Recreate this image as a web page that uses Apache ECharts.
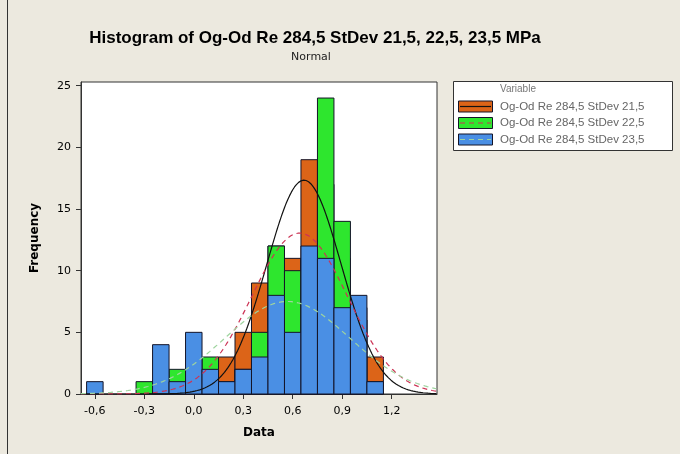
<!DOCTYPE html>
<html><head><meta charset="utf-8">
<script src="https://cdn.jsdelivr.net/npm/echarts@6/dist/echarts.min.js"></script>
<style>html,body{margin:0;padding:0;background:#ece9df;} #c{width:680px;height:454px;}</style>
</head><body><div id="c"></div>
<script>
// ---- data ----
const binCenters = [-0.6,-0.5,-0.4,-0.3,-0.2,-0.1,0.0,0.1,0.2,0.3,0.4,0.5,0.6,0.7,0.8,0.9,1.0,1.1];
const countsSD215 = [0,0,0,0,0,0,0,1,3,5,9,12,11,19,17,11,7,3];
const countsSD225 = [0,0,0,1,1,2,2,3,1,2,5,12,10,11,24,14,6,1];
const countsSD235 = [1,0,0,0,4,1,5,2,1,2,3,8,5,12,11,7,8,1];
const seriesNames = ['Og-Od Re 284,5 StDev 21,5','Og-Od Re 284,5 StDev 22,5','Og-Od Re 284,5 StDev 23,5'];
const xTicks = [-0.6,-0.3,0,0.3,0.6,0.9,1.2];
const yTicks = [0,5,10,15,20,25];
const binWidth = 0.1;
const titleText = 'Histogram of Og-Od Re 284,5 StDev 21,5, 22,5, 23,5 MPa';
const subtitleText = 'Normal';

// ---- styling ----
const xMin = -0.684, xMax = 1.475, yMax = 25.3;
const barColors = ['#dc6418','#2ee62e','#4a8fe4'];
const curveColors = ['#111111','#cc3355','#9fd49f'];
const curveTypes = ['solid',[5,4],[5,4]];
const allCounts = [countsSD215, countsSD225, countsSD235];

function fmt(v){ const r=Math.round(v*10)/10; return (r===0?'0.0':r.toFixed(1)).replace('.',','); }

function fitCurve(counts){
  let n=0,s=0;
  counts.forEach((c,i)=>{n+=c;s+=c*binCenters[i];});
  const m=s/n; let ss=0;
  counts.forEach((c,i)=>{ss+=c*(binCenters[i]-m)*(binCenters[i]-m);});
  const sd=Math.sqrt(ss/(n-1));
  const pts=[];
  for(let x=xMin;x<=xMax+1e-9;x+=0.005){
    pts.push([x, n*binWidth*Math.exp(-(x-m)*(x-m)/(2*sd*sd))/(sd*Math.sqrt(2*Math.PI))]);
  }
  return pts;
}

const series=[];
allCounts.forEach((counts,k)=>{
  series.push({
    type:'custom', name:seriesNames[k], z:2+k,
    data: binCenters.map((x,i)=>[x,counts[i]]),
    renderItem:function(params,api){
      const x=api.value(0), v=api.value(1);
      if(!v) return null;
      const p0=api.coord([x-binWidth/2,v]);
      const p1=api.coord([x+binWidth/2,0]);
      return {type:'rect',shape:{x:p0[0],y:p0[1],width:p1[0]-p0[0],height:p1[1]-p0[1]},
        style:{fill:barColors[k],stroke:'#141428',lineWidth:1}};
    }
  });
});
allCounts.forEach((counts,k)=>{
  series.push({type:'line',z:10,data:fitCurve(counts),showSymbol:false,silent:true,
    lineStyle:{color:curveColors[k],width:1.2,type:curveTypes[k]}});
});

const lg = {x:453.5,y:81.5,w:219,h:69};
const graphics=[
  {type:'line',shape:{x1:7.5,y1:0,x2:7.5,y2:454},style:{stroke:'#333',lineWidth:1}},
  {type:'text',x:315,y:38,style:{text:titleText,font:'bold 17px "Liberation Sans", sans-serif',fill:'#000',textAlign:'center',textVerticalAlign:'middle'}},
  {type:'text',x:311,y:57,style:{text:subtitleText,font:'11px "DejaVu Sans", sans-serif',fill:'#222',textAlign:'center',textVerticalAlign:'middle'}},
  {type:'rect',shape:{x:lg.x,y:lg.y,width:lg.w,height:lg.h},style:{fill:'#fff',stroke:'#333',lineWidth:1}},
  {type:'text',x:500,y:89,style:{text:'Variable',font:'10px "Liberation Sans", sans-serif',fill:'#777',textVerticalAlign:'middle'}}
];
const rowY=[106.5,123,139.5];
seriesNames.forEach((nm,k)=>{
  graphics.push({type:'rect',shape:{x:458.5,y:rowY[k]-5.5,width:34,height:11},style:{fill:barColors[k],stroke:'#141428',lineWidth:1}});
  graphics.push({type:'line',shape:{x1:460,y1:rowY[k],x2:491,y2:rowY[k]},style:{stroke:curveColors[k],lineWidth:1.2,lineDash:k===0?null:[5,4]}});
  graphics.push({type:'text',x:500,y:rowY[k],style:{text:nm,font:'11.5px "Liberation Sans", sans-serif',fill:'#666',textVerticalAlign:'middle'}});
});

const chart=echarts.init(document.getElementById('c'),null,{renderer:'canvas'});
chart.setOption({
  backgroundColor:'#ece9df',
  animation:false,
  grid:{left:81,right:243,top:82,bottom:60,show:true,backgroundColor:'#fff',borderColor:'#333',borderWidth:1},
  xAxis:{type:'value',min:xMin,max:xMax,
    name:'Data',nameLocation:'middle',nameGap:33,
    nameTextStyle:{fontFamily:'DejaVu Sans',fontWeight:'bold',fontSize:12,color:'#000'},
    axisLine:{show:true,onZero:false,lineStyle:{color:'#333'}},
    axisTick:{show:true,length:5,inside:false,customValues:xTicks,lineStyle:{color:'#333'}},
    axisLabel:{customValues:xTicks,formatter:v=>fmt(v),fontFamily:'DejaVu Sans',fontSize:11,color:'#000',margin:12},
    splitLine:{show:false}},
  yAxis:{type:'value',min:0,max:yMax,
    name:'Frequency',nameLocation:'middle',nameGap:40,
    nameTextStyle:{fontFamily:'DejaVu Sans',fontWeight:'bold',fontSize:12,color:'#000'},
    axisLine:{show:true,onZero:false,lineStyle:{color:'#333'}},
    axisTick:{show:true,length:5,customValues:yTicks,lineStyle:{color:'#333'}},
    axisLabel:{customValues:yTicks,fontFamily:'DejaVu Sans',fontSize:11,color:'#000',margin:10},
    splitLine:{show:false}},
  series:series,
  graphic:graphics
});
</script></body></html>
